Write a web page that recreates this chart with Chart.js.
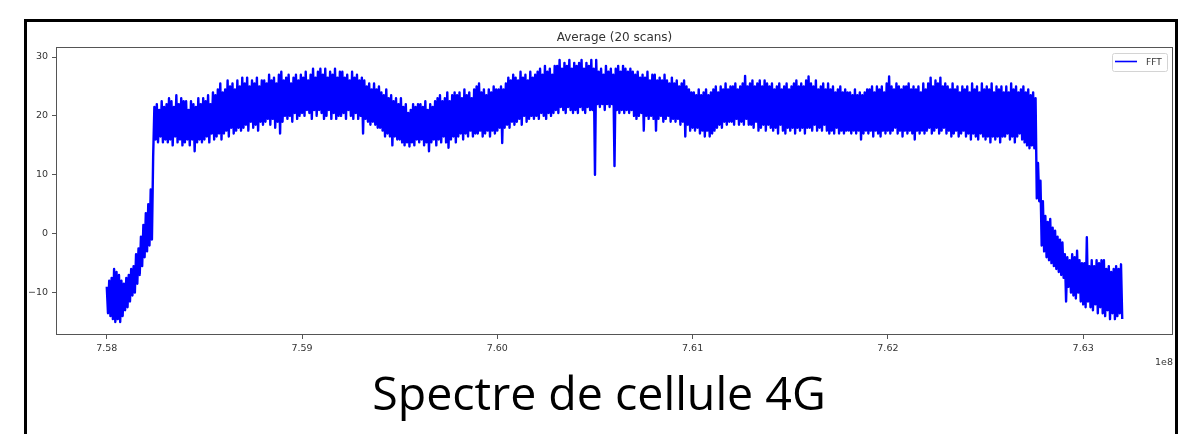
<!DOCTYPE html>
<html>
<head>
<meta charset="utf-8">
<title>Spectre de cellule 4G</title>
<script src="https://cdn.jsdelivr.net/npm/chart.js@4.4.1/dist/chart.umd.min.js"></script>
<style>
  html, body { margin: 0; padding: 0; background: #fff; overflow: hidden; }
  #wrap { position: relative; width: 1192px; height: 434px; }
  #frame { position: absolute; left: 24px; top: 19px; width: 1154px; height: 470px;
           border: 3px solid #000; border-bottom: none; box-sizing: border-box; }
  #chartBox { position: absolute; left: 0; top: 0; width: 1192px; height: 434px; }
  #caption { position: absolute; left: 3px; width: 1192px; top: 360px; text-align: center;
             font-family: 'Open Sans', sans-serif; font-size: 46.5px; color: #000; white-space: nowrap; }
</style>
</head>
<body>
<div id="wrap">
  <div id="frame"></div>
  <div id="chartBox"><canvas id="spectrum"></canvas></div>
  <div id="caption">Spectre de cellule 4G</div>
</div>
<script>
// FFT bins: 6.25 kHz apart starting at 758 MHz, one row = 0.1 MHz (dB)
const freqStartMHz = 758;
const freqStepMHz = 0.00625;
const fftDb = [
  -9, -13.5, -8, -14, -7.5, -14.5, -6, -15, -6.5, -14.5, -7, -15, -8, -14, -8.5, -13,
  -7.5, -12.5, -7, -11.5, -6, -10.5, -5.5, -10, -3.5, -8.5, -2.5, -7, -0.5, -5.5, 1.5, -4,
  3.5, -3, 5, -2, 7.5, -1, 13, 21.5, 16, 22, 15.5, 21, 16.5, 22.5, 15.5, 21.5,
  16, 22, 15.5, 23, 16, 22.5, 15, 21.5, 16.5, 23.5, 15.5, 22, 16, 23, 15, 22.5,
  15.5, 22.5, 16, 21, 15, 22.5, 16, 22, 14, 21.5, 15.5, 23, 16, 22, 15.5, 23,
  16, 22.5, 16.5, 23.5, 15.5, 22, 17, 24, 16, 23.5, 16.5, 24.5, 17, 25.5, 16, 24,
  17, 24.5, 17.5, 26, 16.5, 25, 18, 25.5, 17, 24.5, 17.5, 26, 18, 25, 17.5, 26.5,
  18, 25.5, 18.5, 26.5, 17.5, 25, 19, 26, 18, 25.5, 18.5, 26.5, 17.5, 25, 19, 26,
  18.5, 26, 19, 25.5, 19.5, 27, 18.5, 26, 19.5, 26.5, 18, 25.5, 19, 27, 17, 27.5,
  19, 26, 20, 26.5, 19.5, 27, 20, 25.5, 19, 26.5, 20.5, 27, 19.5, 26, 20, 27,
  20.5, 26.5, 20, 27.5, 21, 26, 20.5, 27, 19.5, 28, 21, 26.5, 20, 27.5, 21, 28,
  20.5, 27, 19.5, 28, 20, 26.5, 21, 27.5, 19.5, 27, 20.5, 28, 19.5, 26.5, 20, 27.5,
  20, 27.5, 20.5, 26.5, 19.5, 27, 21, 26, 20, 27.5, 19.5, 26.5, 20.5, 27, 19.5, 26,
  20, 26.5, 17, 26, 19.5, 25, 19, 25.5, 18.5, 24.5, 19, 25.5, 18.5, 24.5, 18, 25,
  18, 24, 17.5, 23.5, 16.5, 24.5, 17, 23, 16.5, 23.5, 15, 22.5, 16.5, 23, 16, 22,
  16, 23, 15.5, 21.5, 15, 22, 15.5, 20.5, 14.8, 21, 15.5, 22, 15, 21.5, 16, 22,
  15.5, 22, 16, 21.5, 15, 22.5, 15.5, 21, 14, 22, 15.5, 21.5, 16, 22.5, 15, 23,
  16, 23.5, 15.5, 22.5, 16.5, 23, 15.5, 24, 14.6, 22.5, 16, 23.5, 16.5, 24, 15.5, 23.5,
  16.5, 24, 17, 23, 16, 24.5, 17, 23.5, 16.5, 24, 17.5, 23, 16.5, 24.5, 17, 25,
  17, 25.5, 17.5, 24, 16.5, 24.5, 17, 23.5, 17.5, 24.5, 16.5, 24, 17.5, 25, 17, 24.5,
  17.5, 24.5, 18, 25, 15.4, 24.5, 18, 25.5, 18.5, 26.5, 18, 26, 19, 27, 18.5, 26.5,
  19, 26, 19.5, 27.5, 18.5, 26.5, 20, 27, 19, 26, 19.5, 27.5, 20, 26.5, 19.5, 27,
  20, 27.5, 19.5, 28, 20.5, 27, 20, 28.5, 19.5, 27.5, 20.5, 28, 20, 27, 20.5, 28.5,
  21, 28.5, 20.5, 29.5, 21.5, 28, 21, 29, 20.5, 28.5, 21.5, 29.5, 21, 28, 20.5, 29,
  21, 28.5, 20.5, 29, 21.5, 29.5, 21, 28, 20.5, 29, 21.5, 28.5, 21, 29.5, 21, 28,
  10, 29.5, 22, 27.5, 21.5, 28, 22, 27, 21, 28.5, 22, 27.5, 21.5, 28, 22, 27,
  11.5, 28, 21, 28.5, 20.5, 27.5, 21, 28.5, 20.5, 28, 21, 27.5, 20.5, 28, 21, 27.5,
  20, 27, 19.5, 27.5, 20, 26.5, 20.5, 27, 17.5, 26.5, 20, 27.5, 19.5, 26, 20, 27,
  19.5, 27, 17.5, 26, 19.5, 26.5, 20, 26, 19, 27, 19.5, 26, 20, 25.5, 19, 26.5,
  19.5, 25.5, 19, 26, 19.5, 25, 18.5, 25.5, 19, 26, 16.5, 25, 18.5, 24.5, 17.5, 24,
  18, 24, 17.5, 23.5, 18, 24.5, 17, 23.5, 17.5, 24, 16.5, 24.5, 17.5, 23.5, 16.5, 24,
  17, 24.5, 17.5, 25, 18, 24, 18.5, 25, 18, 24.5, 19, 25.5, 18.5, 24.5, 19, 25,
  19, 25, 18.5, 25.5, 19.5, 24.5, 18.5, 25, 19, 25.5, 18.5, 26.8, 19.5, 25, 18.5, 25.5,
  18.5, 26, 18, 25, 19, 25.5, 17.5, 26, 18, 25, 18.5, 26, 17.5, 25.5, 18.5, 25,
  18, 25.5, 17.5, 24.5, 18, 25, 17, 25.5, 18.5, 24.5, 17.5, 25, 17, 25.5, 18, 24.5,
  17.5, 25, 18, 25.5, 17, 26, 18, 25, 17.5, 25.5, 18, 25, 17, 26, 18, 26.7,
  18, 25.5, 17.5, 25, 18.5, 26, 17.5, 24.5, 18, 25, 17.5, 25.5, 18.5, 24.5, 17.5, 25.5,
  17, 24.5, 17.5, 25, 17, 24, 18, 24.5, 17, 25, 17.5, 24, 17, 24.5, 17.5, 24,
  17.5, 24, 17, 23.5, 17.5, 24.5, 17, 23.5, 17.5, 24, 16, 23.5, 17, 24, 17.5, 24.5,
  17, 24.5, 17.5, 25, 16.5, 24, 17.5, 25, 17, 24.5, 16.5, 25, 17.5, 24, 17, 25.5,
  17.5, 26.7, 17, 25, 17.5, 24.5, 18, 25.5, 17, 25, 17.5, 24.5, 16.5, 25, 17.5, 25,
  17, 25.5, 17.5, 24.5, 17, 25, 16, 24.5, 17.5, 25, 17, 24, 17.5, 25.5, 17, 24.5,
  17.5, 25.5, 18, 26.5, 17, 25, 17.5, 26, 18, 25.5, 17, 26.5, 17.5, 25, 18, 25.5,
  17, 25, 17.5, 24.5, 16.5, 25.5, 17, 24.5, 17.5, 25, 16.5, 24, 17, 25, 17.5, 24.5,
  16.5, 25, 17, 24, 16, 25.5, 17, 24.5, 16.5, 25, 16, 24, 17, 25.5, 16.5, 24.5,
  16, 25, 16.5, 24.5, 15.5, 25.5, 16.5, 24, 16, 25, 16.5, 24.5, 15.5, 25, 16.5, 24,
  16.5, 25, 17, 24, 16, 25.5, 16.5, 24.5, 15.5, 25, 16.5, 24, 17, 24.5, 16, 25,
  15.5, 24, 15, 24.5, 14.5, 23.5, 15, 24, 14.5, 23, 6, 12, 5.5, 9, -2, 5.5,
  -3, 3, -4, 2, -4.5, 2.5, -5, 1, -5.5, 0.5, -6, -0.5, -6.5, -1, -7, -1.5,
  -7.5, -3.5, -11.5, -4, -9, -4.5, -10, -3.5, -10.5, -4, -11, -2.9, -10, -4.5, -11.5, -5,
  -12, -5, -12.5, -0.6, -11.5, -5.5, -12.5, -4.5, -13, -5.5, -12, -4.5, -13.5, -5, -12.5, -4.5,
  -13.5, -4.5, -14, -6, -13, -5.5, -14.5, -6.5, -13.5, -6, -14.5, -5.5, -14, -6, -13.5, -5.2,
  -14.5
];
const xTickValues = [758, 759, 760, 761, 762, 763];
const xTickLabels = ['7.58', '7.59', '7.60', '7.61', '7.62', '7.63'];
const yTickValues = [-10, 0, 10, 20, 30];
const seriesLabel = 'FFT';
const chartTitle = 'Average (20 scans)';
const offsetLabel = '1e8';

const points = fftDb.map((v, i) => ({ x: freqStartMHz + i * freqStepMHz, y: v }));
const tickFont = { family: 'DejaVu Sans', size: 9.5 };

// spines, title, legend box and the 1e8 offset text, matplotlib style
const decorPlugin = {
  id: 'decor',
  afterDraw(chart) {
    const { ctx, chartArea: a } = chart;
    ctx.save();
    ctx.strokeStyle = '#555';
    ctx.lineWidth = 1;
    ctx.strokeRect(a.left + 0.5, a.top + 0.5, a.right - a.left - 1, a.bottom - a.top - 1);

    ctx.fillStyle = '#333';
    ctx.font = '12px "DejaVu Sans"';
    ctx.textAlign = 'center';
    ctx.textBaseline = 'alphabetic';
    ctx.fillText(chartTitle, (a.left + a.right) / 2, a.top - 6);

    ctx.font = '9.5px "DejaVu Sans"';
    ctx.textAlign = 'right';
    ctx.fillText(offsetLabel, a.right, a.bottom + 30);

    // legend
    const bx = a.right - 61, by = a.top + 6, bw = 55, bh = 18;
    ctx.beginPath();
    ctx.roundRect(bx + 0.5, by + 0.5, bw, bh, 2);
    ctx.fillStyle = 'rgba(255,255,255,0.8)';
    ctx.fill();
    ctx.strokeStyle = '#d4d4d4';
    ctx.stroke();
    ctx.beginPath();
    ctx.moveTo(bx + 3, by + 8.5);
    ctx.lineTo(bx + 25, by + 8.5);
    ctx.strokeStyle = chart.data.datasets[0].borderColor;
    ctx.lineWidth = 1.6;
    ctx.stroke();
    ctx.fillStyle = '#333';
    ctx.font = '9px "DejaVu Sans"';
    ctx.textAlign = 'left';
    ctx.fillText(chart.data.datasets[0].label, bx + 34, by + 12);
    ctx.restore();
  }
};

new Chart(document.getElementById('spectrum'), {
  type: 'line',
  data: {
    datasets: [{
      label: seriesLabel,
      data: points,
      borderColor: '#0000ff',
      borderWidth: 2.4,
      borderJoinStyle: 'round',
      pointRadius: 0,
      tension: 0,
      fill: false
    }]
  },
  options: {
    responsive: true,
    maintainAspectRatio: false,
    animation: false,
    layout: { padding: { left: 0, right: 19, top: 47, bottom: 0 } },
    plugins: { legend: { display: false }, title: { display: false }, tooltip: { enabled: false } },
    scales: {
      x: {
        type: 'linear',
        min: 757.74,
        max: 763.46,
        afterBuildTicks: s => { s.ticks = xTickValues.map(v => ({ value: v })); },
        afterFit: s => { s.height = 99; },
        ticks: {
          callback: v => xTickLabels[xTickValues.indexOf(v)],
          color: '#333', font: tickFont, padding: 4, maxRotation: 0, autoSkip: false
        },
        grid: { display: true, drawOnChartArea: false, drawTicks: true, tickLength: 4, color: '#555' },
        border: { display: false }
      },
      y: {
        min: -17.2,
        max: 31.7,
        afterBuildTicks: s => { s.ticks = yTickValues.map(v => ({ value: v })); },
        afterFit: s => { s.width = 56; },
        ticks: {
          callback: v => v < 0 ? '\u2212' + Math.abs(v) : String(v),
          color: '#333', font: tickFont, padding: 4
        },
        grid: { display: true, drawOnChartArea: false, drawTicks: true, tickLength: 4, color: '#555' },
        border: { display: false }
      }
    }
  },
  plugins: [decorPlugin]
});
</script>
</body>
</html>
